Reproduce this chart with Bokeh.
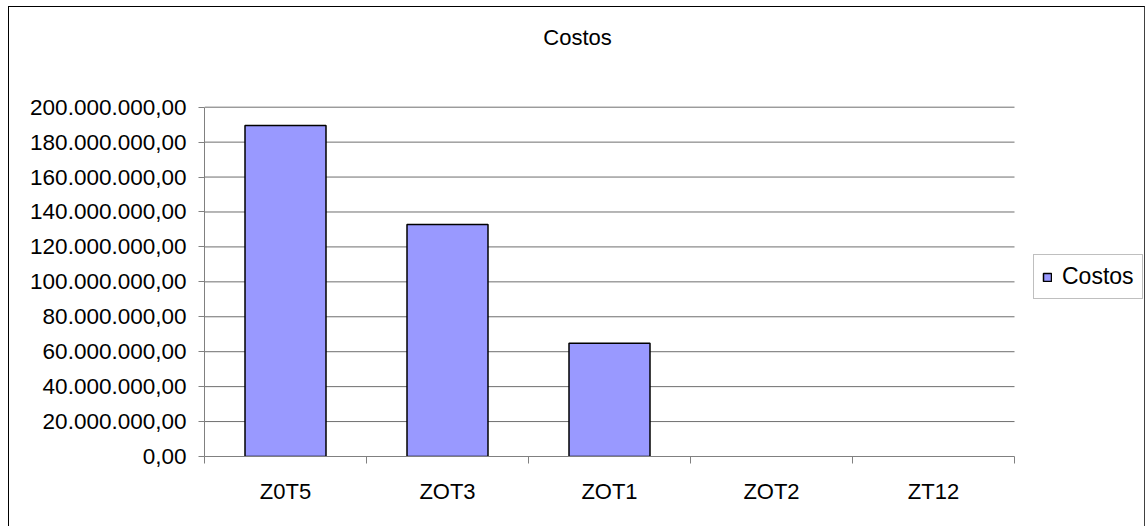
from bokeh.plotting import figure
from bokeh.models import (FixedTicker, Legend, LegendItem, Label,
                          ColumnDataSource, Range1d)
from bokeh.embed import file_html
from bokeh.resources import INLINE

# ---- data ----
categories = ["Z0T5", "ZOT3", "ZOT1", "ZOT2", "ZT12"]
costos = [189_500_000, 132_800_000, 64_900_000, 0, 0]
y_ticks = [0, 20_000_000, 40_000_000, 60_000_000, 80_000_000, 100_000_000,
           120_000_000, 140_000_000, 160_000_000, 180_000_000, 200_000_000]
y_tick_labels = ["0,00", "20.000.000,00", "40.000.000,00", "60.000.000,00",
                 "80.000.000,00", "100.000.000,00", "120.000.000,00",
                 "140.000.000,00", "160.000.000,00", "180.000.000,00",
                 "200.000.000,00"]
title_text = "Costos"
series_name = "Costos"

FONT = "Liberation Sans"

# ---- layout (pixels, canvas coordinates) ----
W, H = 1137, 520
plot_left, plot_right, zero_px, top_tick_px = 195, 1005, 449, 99.7
n = len(categories)
y_max = y_ticks[-1]
# the frame covers the whole canvas to the top and right so that the
# title and legend (drawn inside it) are not clipped
y_end = y_max * zero_px / (zero_px - top_tick_px)
x_end = n * (W - plot_left) / (plot_right - plot_left)

centers = [i + 0.5 for i in range(n)]
bounds = [i for i in range(n + 1)]
# zero-height bars get no outline (as in the original)
outline = ["black" if v > 0 else None for v in costos]

src = ColumnDataSource(dict(x=centers, top=costos, cat=categories, lc=outline))
grid_src = ColumnDataSource(dict(y=y_ticks[1:], x0=[0] * (len(y_ticks) - 1),
                                 x1=[n] * (len(y_ticks) - 1)))

p = figure(width=W, height=H, output_backend="svg", toolbar_location=None,
           title=None, x_range=Range1d(0, x_end), y_range=Range1d(0, y_end),
           min_border_left=plot_left, min_border_right=0,
           min_border_top=0, min_border_bottom=H - zero_px)
p.outline_line_color = None
p.background_fill_color = "white"
p.border_fill_color = "white"
p.margin = (6, 0, 0, 8)
p.styles = {"border-top": "1px solid #000000", "border-left": "1px solid #000000",
            "border-right": "1px solid #404040"}

p.xgrid.grid_line_color = None
p.ygrid.grid_line_color = None
# horizontal gridlines limited to the plot area
p.segment(x0="x0", x1="x1", y0="y", y1="y", source=grid_src,
          line_color="#6e6e6e", line_width=1)

r = p.vbar(x="x", top="top", width=0.5, source=src, fill_color="#9999FF",
           line_color="lc", line_width=1.5)

# x axis: labels at centres, tick marks at category boundaries
xa = p.xaxis[0]
xa.ticker = FixedTicker(ticks=centers, minor_ticks=bounds)
xa.major_label_overrides = {c: lab for c, lab in zip(centers, categories)}
xa.bounds = (0, n)
xa.major_tick_in = 0
xa.major_tick_out = 0
xa.minor_tick_in = 0
xa.minor_tick_out = 7
xa.minor_tick_line_color = "#808080"
xa.axis_line_color = "#808080"
xa.major_label_text_font = FONT
xa.major_label_text_font_size = "22px"
xa.major_label_text_color = "black"
xa.major_label_standoff = 15

ya = p.yaxis[0]
ya.ticker = FixedTicker(ticks=y_ticks, minor_ticks=[])
ya.major_label_overrides = {t: lab for t, lab in zip(y_ticks, y_tick_labels)}
ya.bounds = (0, y_max)
ya.major_tick_in = 0
ya.major_tick_out = 6
ya.major_tick_line_color = "#808080"
ya.axis_line_color = "#808080"
ya.major_label_text_font = FONT
ya.major_label_text_font_size = "22.5px"
ya.major_label_text_color = "black"
ya.major_label_standoff = 12

# title, centred over the whole chart (left of the plot-area centre)
p.add_layout(Label(x=n / 2, y=y_max, x_offset=-32, y_offset=70, text=title_text,
                   text_align="center", text_baseline="alphabetic",
                   text_font=FONT, text_font_size="22px", text_color="black"))

legend = Legend(items=[LegendItem(label=series_name, renderers=[r])],
                location=(829, 157), orientation="vertical",
                border_line_color="#808080", border_line_width=1,
                background_fill_color="white", background_fill_alpha=1,
                glyph_width=10, glyph_height=10, label_standoff=10,
                padding=8, margin=0, spacing=0, label_height=22,
                label_text_font=FONT, label_text_font_size="23px",
                label_text_color="black")
p.add_layout(legend)

open("out.html", "w").write(file_html(p, INLINE))
